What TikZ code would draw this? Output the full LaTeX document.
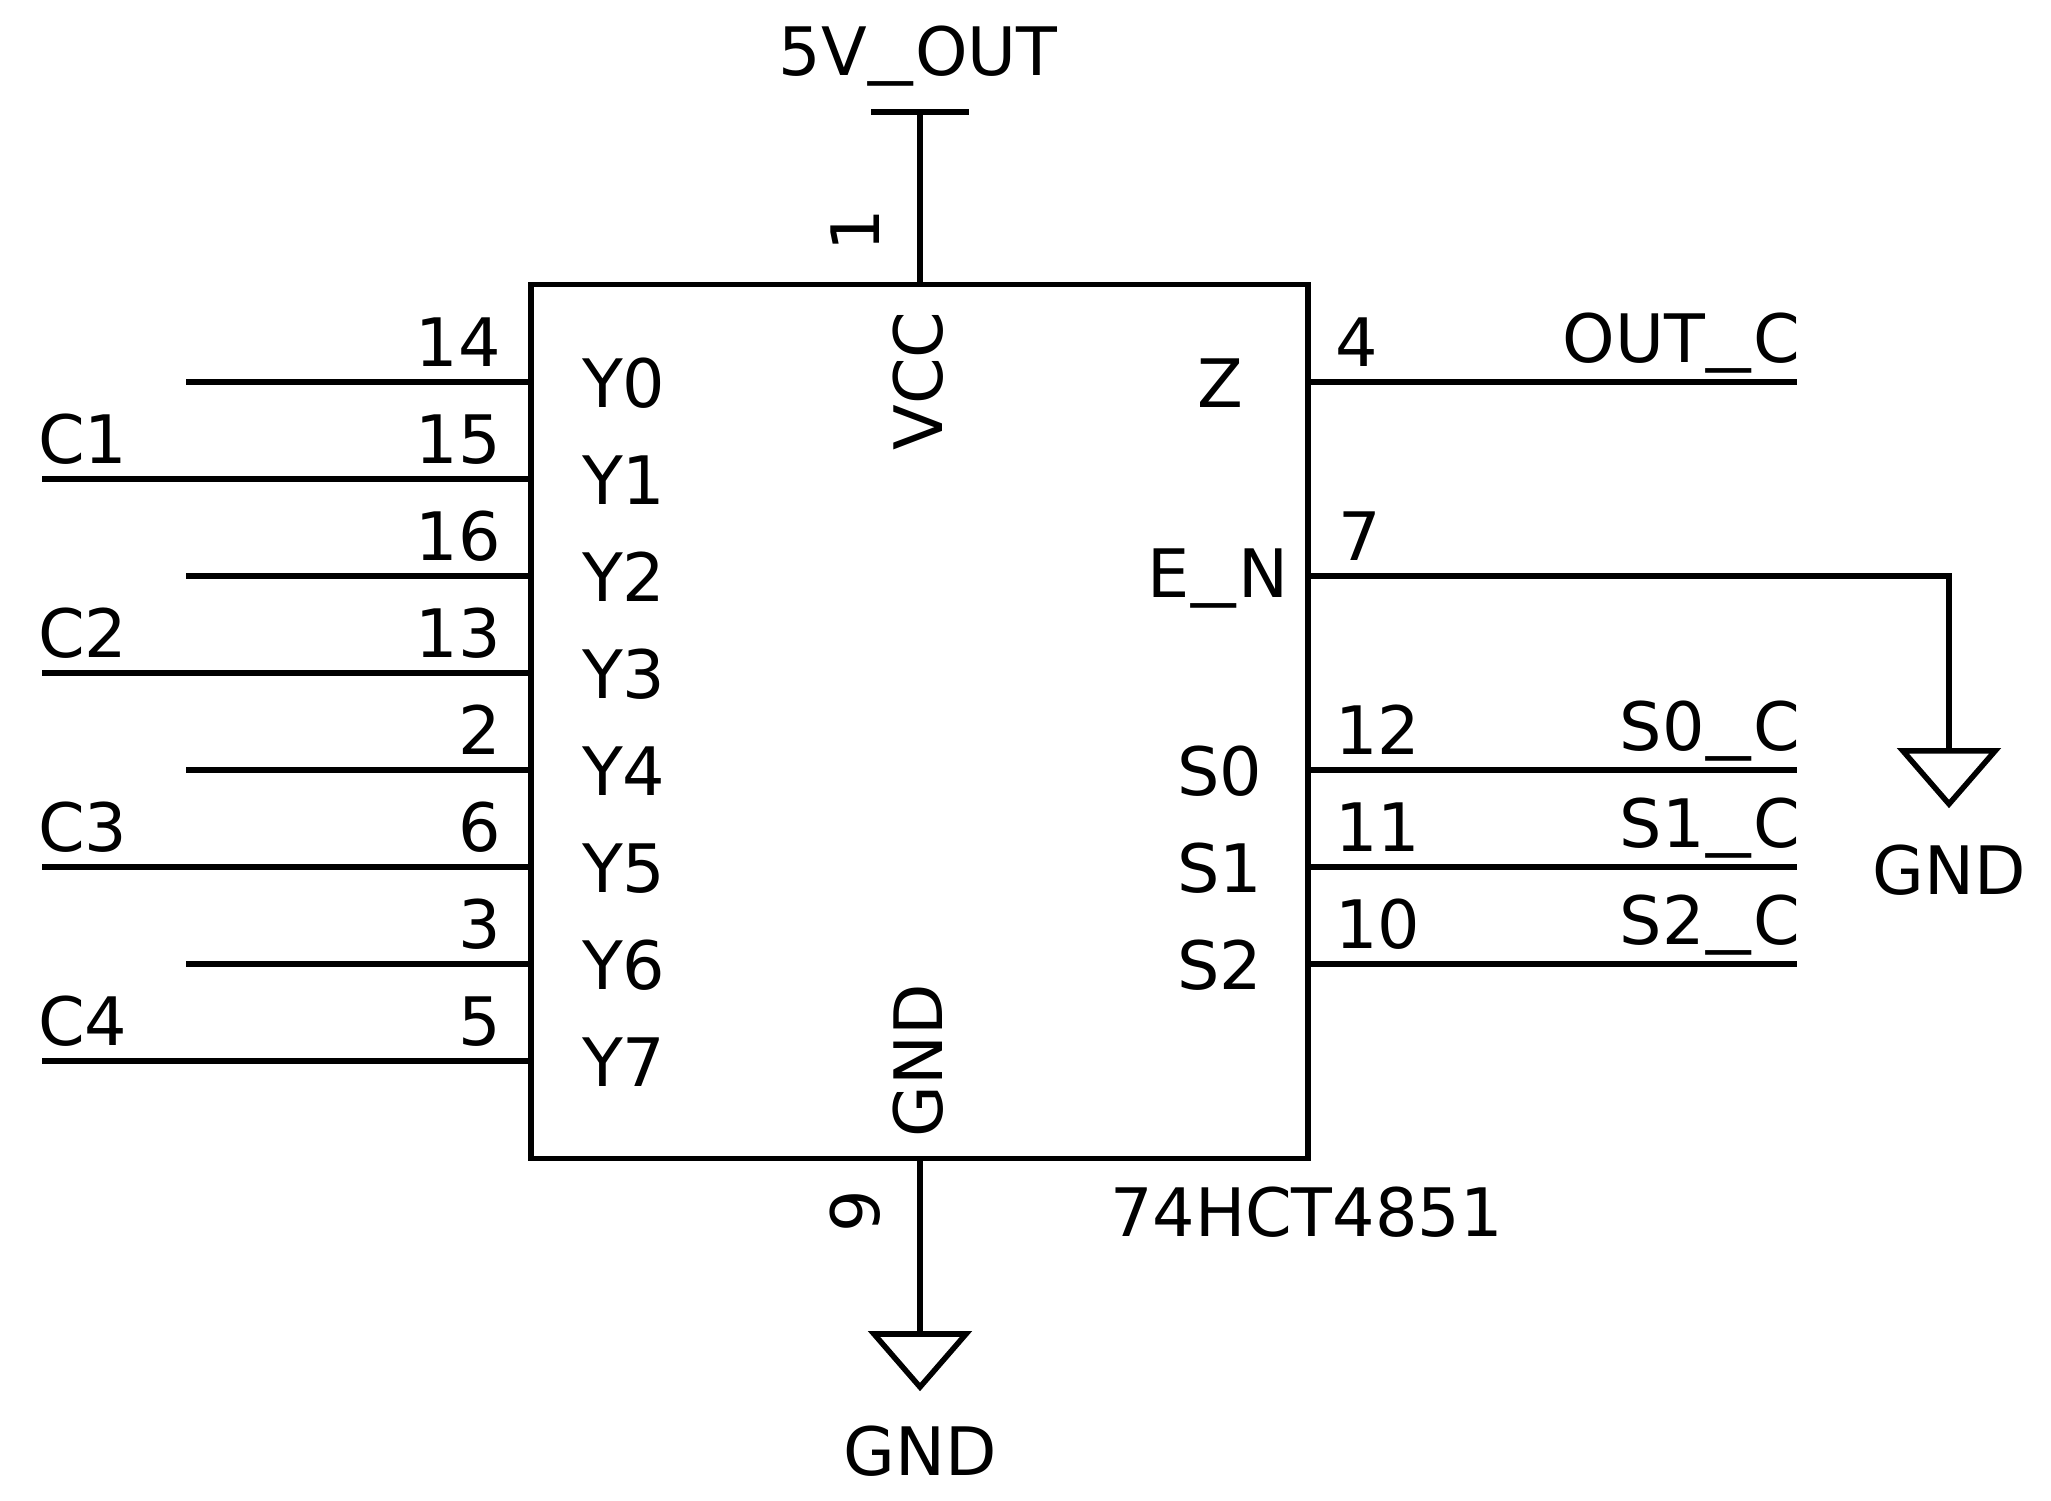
\documentclass[tikz,border=0pt]{standalone}
\usepackage{fontspec}
\setmainfont{DejaVu Sans}
\usepackage{tikz}
\usetikzlibrary{calc}
\newcommand{\us}{\hspace{0.03em}\raisebox{0.08em}{\scalebox{1.33}[1]{\_}}\hspace{0.03em}}
\newcommand{\plotPinLeft}[4]
{
	\coordinate (P#1) at (#4,#3);
	\draw[wire] (IC.west |- P#1) -- (P#1);
	\node[lbl,anchor=base east] (N#1) at (501,#3-15) {#1};
	\node[lbl,anchor=base west] (#2) at (582,#3+26) {#2};
}
\newcommand{\plotPinRight}[4]
{
	\coordinate (P#1) at (1797,#3);
	\draw[wire] (IC.east |- P#1) -- (P#1);
	\node[lbl,anchor=base west] (N#1) at (1335,#3-15) {#1};
	\node[lbl,anchor=base] (#2) at (1220,#3+26) {#2};
	\node[lbl,anchor=base east] (L#1) at (1800,#3-19) {#4};
}
\newcommand{\plotGround}[3]
{
	\coordinate (#1-a) at (#2-46,#3);
	\coordinate (#1-b) at (#2+46,#3);
	\coordinate (#1-c) at (#2,#3+53);
	\draw[wire] (#1-a) -- (#1-b) -- (#1-c) -- cycle;
}
\tikzset{
	wire/.style={line width=0.055cm},
	lbl/.style={inner sep=0pt,outer sep=0pt,font=\fontsize{19}{19}\selectfont},
}
\begin{document}
\begin{tikzpicture}[x=0.01cm,y=-0.01cm]
\useasboundingbox (0,0) rectangle (2051,1501);
\node[wire,draw,inner sep=0pt,outer sep=0pt,minimum width=7.77cm,minimum height=8.73cm] (IC) at (919.5,721.5) {};

\plotPinLeft{14}{Y0}{382}{186}
\plotPinLeft{15}{Y1}{479}{42}
\plotPinLeft{16}{Y2}{576}{186}
\plotPinLeft{13}{Y3}{673}{42}
\plotPinLeft{2}{Y4}{770}{186}
\plotPinLeft{6}{Y5}{867}{42}
\plotPinLeft{3}{Y6}{964}{186}
\plotPinLeft{5}{Y7}{1061}{42}

\node[lbl,anchor=base west] (C1) at (38,464) {C1};
\node[lbl,anchor=base west] (C2) at (38,658) {C2};
\node[lbl,anchor=base west] (C3) at (38,852) {C3};
\node[lbl,anchor=base west] (C4) at (38,1046) {C4};

\plotPinRight{4}{Z}{382}{OUT\us C}
\plotPinRight{12}{S0}{770}{S0\us C}
\plotPinRight{11}{S1}{867}{S1\us C}
\plotPinRight{10}{S2}{964}{S2\us C}

% enable pin
\plotGround{G1}{1949}{751}
\coordinate (E) at (1308,576);
\node[lbl,anchor=base] (EN) at (1218,598) {E\us N};
\node[lbl,anchor=base west] (N7) at (1338,561) {7};
\node[lbl,anchor=base] (GND1) at (1949,895) {GND};
\draw[wire] (E) -| ($(G1-a)!0.5!(G1-b)$);

% supply pins
\coordinate (T) at (920,112);
\coordinate (T-a) at (871,112);
\coordinate (T-b) at (969,112);
\draw[wire] (T-a) -- (T-b);
\draw[wire] (IC.north -| T) -- (T);
\node[lbl,anchor=base] (SV) at (918,76) {5V\us OUT};
\node[lbl,anchor=base,rotate=90] (N1) at (879,230) {1};
\node[lbl,anchor=base,rotate=90] (VCC) at (942,381) {VCC};

\plotGround{G2}{920}{1334}
\draw[wire] (IC.south -| G2-c) -- (G2-c |- G2-a);
\node[lbl,anchor=base,rotate=90] (N9) at (879,1211) {9};
\node[lbl,anchor=base,rotate=90] (GNDP) at (942,1061) {GND};
\node[lbl,anchor=base] (GND2) at (920,1475) {GND};
\node[lbl,anchor=base west] (PART) at (1110,1237) {74HCT4851};
\end{tikzpicture}
\end{document}
